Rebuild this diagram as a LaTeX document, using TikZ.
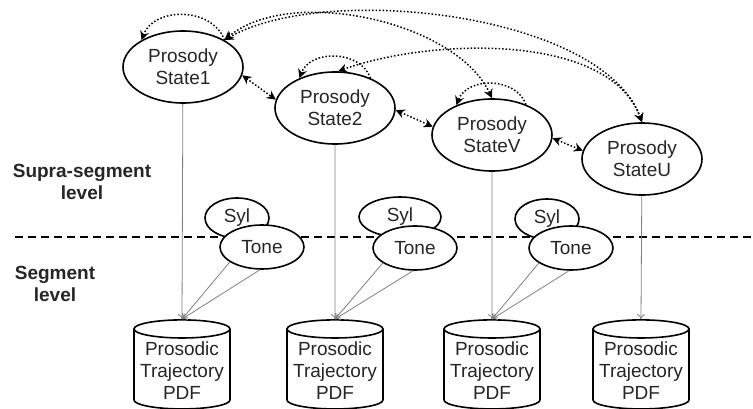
\documentclass[tikz,border=0pt]{standalone}
\usepackage{fontspec}
\setmainfont{Liberation Sans}
\usetikzlibrary{arrows.meta,shapes.geometric}

\begin{document}
\begin{tikzpicture}[x=1pt, y=-1pt,
            every node/.style={font=\fontsize{19}{22}\selectfont, text=black!85, align=center},
            statenode/.style={draw, ellipse, line width=1.6pt, fill=white, minimum width=120pt, minimum height=72pt},
            sylnode/.style={draw, ellipse, line width=1.6pt, fill=white, minimum width=64pt, minimum height=40pt},
            tonenode/.style={draw, ellipse, line width=1.6pt, fill=white, minimum width=84pt, minimum height=44pt},
            pdfnode/.style={draw, cylinder, shape border rotate=90, aspect=0.2, line width=1.6pt, fill=white, minimum width=96pt, minimum height=82pt},
            link/.style={draw, gray, line width=0.8pt, -{To[length=5pt, width=8pt]}},
            jump/.style={draw, dotted, line width=1.5pt, {Stealth[length=9pt, width=9pt, inset=3pt]}-{Stealth[length=9pt, width=9pt, inset=3pt]}},
            selfarc/.style={draw, dotted, line width=1.5pt, -{Stealth[length=9pt, width=9pt, inset=3pt]}, out=110, in=70, looseness=1.1}]
        \useasboundingbox (0,0) rectangle (753,409);
        \coordinate (lvl-a) at (15,237);
        \coordinate (lvl-b) at (753,237);
        \draw[line width=1.6pt, dash pattern=on 8pt off 5pt] (lvl-a) -- (lvl-b);
        \node[font=\bfseries\fontsize{19}{22}\selectfont] (supra) at (82,182) {Supra-segment\\level};
        \node[font=\bfseries\fontsize{19}{22}\selectfont] (seg) at (55,284) {Segment\\level};

        \node[statenode] (s1) at (183,67) {Prosody\\State1};
        \node[statenode] (s2) at (335,108) {Prosody\\State2};
        \node[statenode] (sV) at (492,135) {Prosody\\StateV};
        \node[statenode] (sU) at (642,159) {Prosody\\StateU};

        \node[sylnode] (syl1) at (237,218) {Syl};
        \node[sylnode, minimum width=82pt] (syl2) at (400,217) {Syl};
        \node[sylnode] (syl3) at (547,219) {Syl};
        \node[tonenode] (tone1) at (262,247) {Tone};
        \node[tonenode] (tone2) at (415,248) {Tone};
        \node[tonenode] (tone3) at (571,248) {Tone};

        \node[pdfnode] (pdf1) at (182,371) {Prosodic\\Trajectory\\PDF};
        \node[pdfnode] (pdf2) at (335,371) {Prosodic\\Trajectory\\PDF};
        \node[pdfnode] (pdf3) at (492,371) {Prosodic\\Trajectory\\PDF};
        \node[pdfnode] (pdf4) at (641,371) {Prosodic\\Trajectory\\PDF};

        \path[link] (s1) -- (pdf1.north);
        \path[link] (s2) -- (pdf2.north);
        \path[link] (sV) -- (pdf3.north);
        \path[link] (sU) -- (pdf4.north);
        \path[link] (tone1.-155) -- (pdf1.north);
        \path[link] (tone1.-95) -- (pdf1.north);
        \path[link] (tone2.-155) -- (pdf2.north);
        \path[link] (tone2.-95) -- (pdf2.north);
        \path[link] (tone3.-155) -- (pdf3.north);
        \path[link] (tone3.-95) -- (pdf3.north);

        \path[selfarc] (s1.33) to (s1.147);
        \path[selfarc] (s2.40) to (s2.140);
        \path[selfarc] (sV.42) to (sV.140);

        \path[jump] (s1.-8) -- (s2.172);
        \path[jump] (s2.-2) -- (sV.172);
        \path[jump] (sV.-3) -- (sU.172);

        \path[jump] (s1.33) to[out=40, in=115, looseness=0.8] (sV.north);
        \path[jump] (s1.33) to[out=30, in=110, looseness=0.7] (sU.north);
        \path[jump] (s2.85) to[out=20, in=110, looseness=0.8] (sU.north);
\end{tikzpicture}
\end{document}
